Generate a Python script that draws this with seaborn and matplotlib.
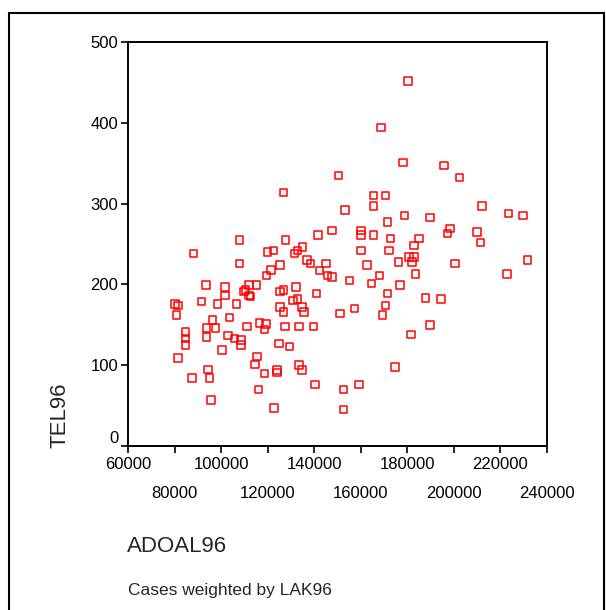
import matplotlib
matplotlib.use("Agg")
import matplotlib.pyplot as plt
import seaborn as sns
import pandas as pd
from matplotlib.patches import Rectangle

adoal96 = [180200, 168700, 178100, 195800, 202400, 150500, 126700, 165400, 170700, 165400,
           212100, 153200, 223400, 229600, 178800, 189800, 171400, 147700, 160000, 160000,
           165400, 141700, 198400, 197200, 210000, 172800, 185000, 211400, 107800, 127600,
           182800, 134900, 132900, 131600, 122600, 119900, 88200, 160000, 172100, 180800,
           182900, 182000, 176100, 231600, 200500, 107800, 136900, 138300, 145000, 162600,
           125400, 121400, 142300, 119400, 145800, 147700, 168000, 183600, 222800, 155200,
           164700, 176900, 93600, 101700, 112000, 115300, 110400, 109800, 112000, 112700,
           101700, 132100, 126800, 125400, 132900, 130800, 141000, 171400, 80100, 81500,
           91600, 98400, 106500, 80800, 96300, 103700, 125400, 134800, 126800, 135600,
           151100, 157200, 170700, 169400, 187700, 194400, 84800, 84800, 84800, 81400,
           93700, 93700, 97700, 103000, 105800, 108500, 108500, 100400, 111200, 116600,
           118700, 119300, 115400, 114600, 118700, 116000, 122700, 124000, 124000, 124800,
           129300, 127500, 133500, 139700, 133500, 134800, 140400, 152500, 152500, 159200,
           174700, 181500, 189800, 95700, 95100, 94300, 87500]
tel96 = [452, 394, 351, 347, 332, 335, 314, 310, 310, 297,
         297, 292, 288, 285, 285, 283, 277, 267, 267, 261,
         261, 261, 269, 263, 265, 257, 257, 252, 255, 255,
         248, 246, 242, 238, 242, 240, 238, 242, 242, 234,
         234, 228, 228, 230, 226, 226, 230, 226, 226, 224,
         224, 218, 217, 211, 211, 209, 211, 213, 213, 205,
         201, 199, 199, 197, 199, 199, 193, 191, 186, 185,
         186, 197, 193, 191, 182, 180, 189, 189, 176, 174,
         179, 176, 176, 162, 156, 159, 172, 172, 166, 166,
         164, 170, 174, 162, 183, 182, 141, 133, 125, 109,
         146, 135, 146, 137, 133, 131, 125, 119, 148, 152,
         144, 151, 111, 101, 90, 70, 47, 94, 91, 127,
         123, 148, 148, 148, 100, 94, 76, 70, 45, 76,
         98, 138, 150, 57, 84, 95, 84]

x_major = [60000, 100000, 140000, 180000, 220000]
x_minor = [80000, 120000, 160000, 200000, 240000]
y_ticks = [0, 100, 200, 300, 400, 500]

df = pd.DataFrame({"ADOAL96": adoal96, "TEL96": tel96})

sns.set_style("white")
plt.rcParams["font.family"] = ["Liberation Sans", "DejaVu Sans"]

fig = plt.figure(figsize=(6.06, 6.10), dpi=100)
ax = fig.add_axes([128 / 606, 164 / 610, 419 / 606, 404 / 610])

sns.scatterplot(data=df, x="ADOAL96", y="TEL96", ax=ax, marker="s", s=29,
                facecolor="none", edgecolor="#ff0000", linewidth=1.1)

ax.set_xlim(60000, 240000)
ax.set_ylim(0, 500)
ax.set_xticks(x_major)
ax.set_xticks(x_minor, minor=True)
ax.set_xticklabels([str(v) for v in x_major], fontsize=12)
ax.set_xticklabels([str(v) for v in x_minor], minor=True, fontsize=12)
ax.set_yticks(y_ticks)
ax.set_yticklabels([str(v) for v in y_ticks], fontsize=12)
ax.tick_params(axis="x", which="major", direction="out", length=5, width=1.2, pad=3, colors="black")
ax.tick_params(axis="x", which="minor", direction="out", length=5, width=1.2, pad=24, colors="black")
ax.tick_params(axis="y", direction="out", length=5, width=1.2, pad=2, colors="black", left=True)
ax.tick_params(axis="x", which="both", bottom=True)
for lab in ax.get_yticklabels():
    if lab.get_text() == "0":
        lab.set_va("bottom")

for sp in ax.spines.values():
    sp.set_visible(True)
    sp.set_color("black")
    sp.set_linewidth(1.4)

ax.set_xlabel("")
ax.set_ylabel("")
fig.text(60 / 606, 1 - 415 / 610, "TEL96", rotation=90, ha="center", va="center", fontsize=16)
fig.text(127 / 606, 1 - 547 / 610, "ADOAL96", ha="left", va="center", fontsize=16)
fig.text(128 / 606, 1 - 591 / 610, "Cases weighted by LAK96", ha="left", va="center", fontsize=12.5)

fig.patches.append(Rectangle((9 / 606, -0.05), 595 / 606, 1.05 - 13 / 610,
                             transform=fig.transFigure, fill=False, edgecolor="black",
                             linewidth=1.5))

fig.savefig("out.png", dpi=100)
